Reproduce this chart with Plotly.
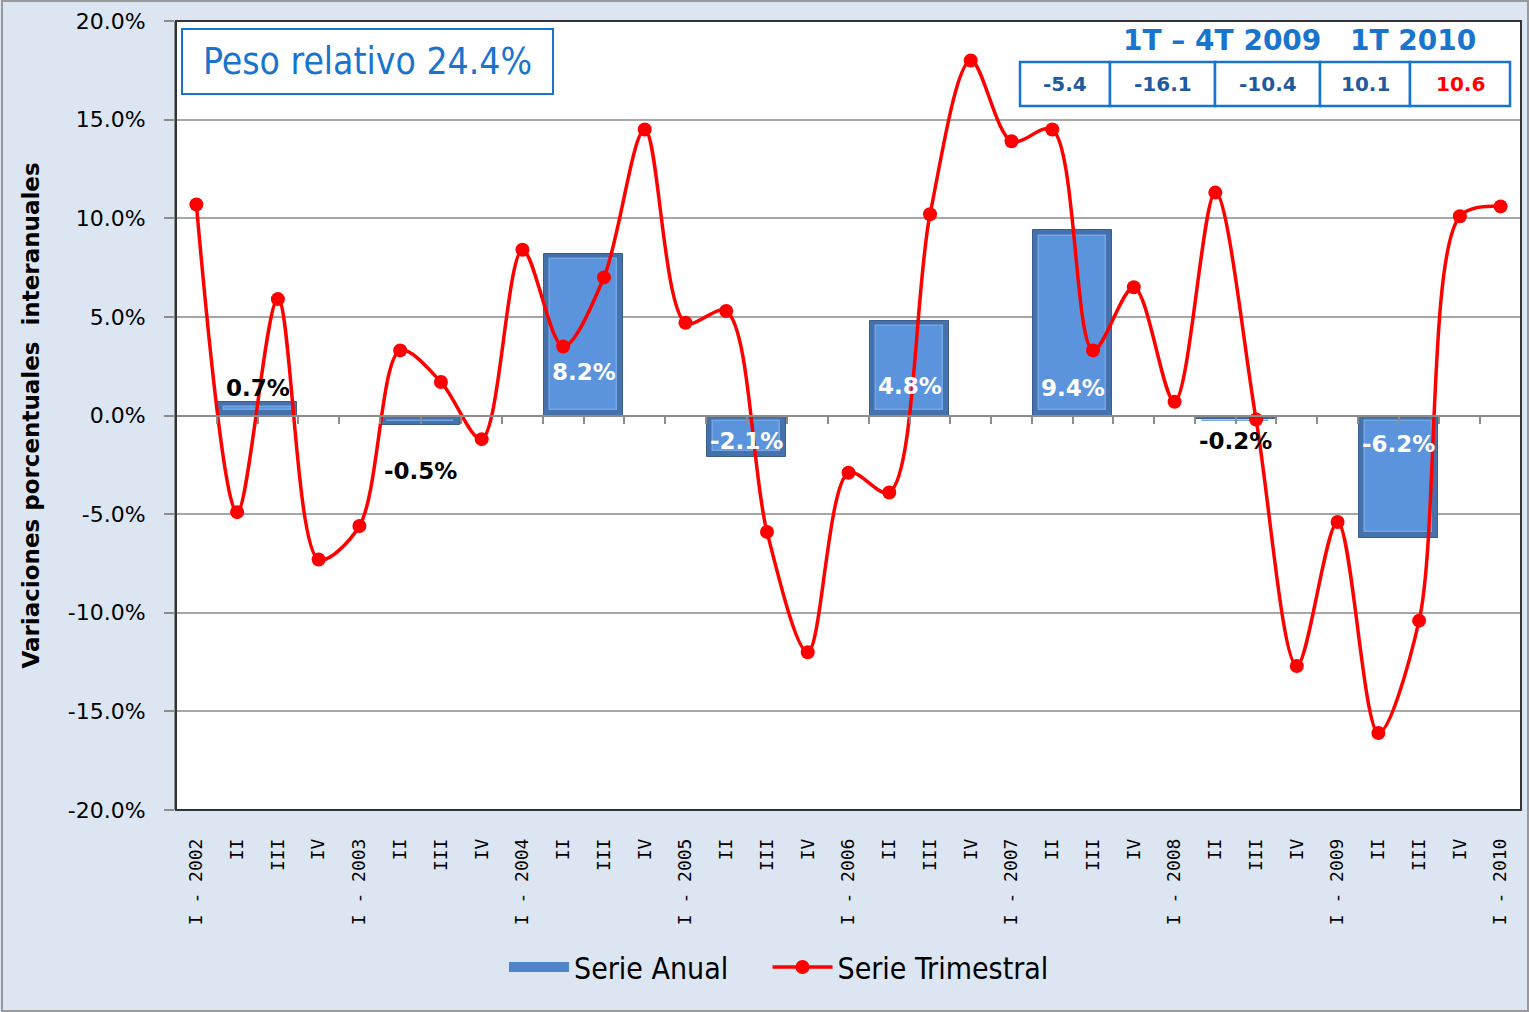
import plotly.graph_objs as go

# Quarterly categories and values
quarters = ["I - 2002", "II", "III", "IV",
            "I - 2003", "II", "III", "IV",
            "I - 2004", "II", "III", "IV",
            "I - 2005", "II", "III", "IV",
            "I - 2006", "II", "III", "IV",
            "I - 2007", "II", "III", "IV",
            "I - 2008", "II", "III", "IV",
            "I - 2009", "II", "III", "IV",
            "I - 2010"]
trimestral = [10.7, -4.9, 5.9, -7.3,
              -5.6, 3.3, 1.7, -1.2,
              8.4, 3.5, 7.0, 14.5,
              4.7, 5.3, -5.9, -12.0,
              -2.9, -3.9, 10.2, 18.0,
              13.9, 14.5, 3.3, 6.5,
              0.7, 11.3, -0.2, -12.7,
              -5.4, -16.1, -10.4, 10.1,
              10.6]

# Annual series
years = [2002, 2003, 2004, 2005, 2006, 2007, 2008, 2009]
anual = [0.7, -0.5, 8.2, -2.1, 4.8, 9.4, -0.2, -6.2]

# y axis ticks
y_ticks = [20, 15, 10, 5, 0, -5, -10, -15, -20]
y_ticktext = ["%.1f%%" % v for v in y_ticks]

# Box texts
peso_text = "Peso relativo 24.4%"
table_heads = ["1T \u2013 4T 2009", "1T 2010"]
table_vals = ["-5.4", "-16.1", "-10.4", "10.1", "10.6"]

# --- geometry helpers (pixel -> paper) ---
L, R, T, B = 176, 1521, 21, 810
def px(x):
    return (x - L) / (R - L)
def py(y):
    return (B - y) / (B - T)

font_main = "DejaVu Sans, Verdana, sans-serif"
font_cond = "DejaVu Sans Condensed, DejaVu Sans, sans-serif"

# bars centred between the 2nd and 3rd quarter of each year
bar_x = [(y - 2002) * 4 + 1.5 for y in years]
bar_w = 1.95
# inner (lighter) face of the bevelled bars
inset_x, inset_y = 0.15, 0.28
inner_base = [inset_y if v > 0 else -inset_y for v in anual]
inner_y = [(max(abs(v) - 2 * inset_y, 0)) * (1 if v > 0 else -1) for v in anual]

fig = go.Figure()
fig.add_trace(go.Bar(
    x=bar_x, y=anual, width=bar_w, name="Serie Anual", showlegend=False,
    marker=dict(color="#4672AC", line=dict(color="#3A5D8E", width=1)),
))
fig.add_trace(go.Bar(
    x=bar_x, y=inner_y, base=inner_base, width=bar_w - 2 * inset_x,
    showlegend=False, hoverinfo="skip",
    marker=dict(color="#5B94DC", line=dict(color="#72A6E6", width=1.5)),
))
# legend entry for the annual series (wide bar-like symbol)
fig.add_trace(go.Scatter(
    x=[None], y=[None], mode="lines", name="Serie Anual" + "\u00a0" * 4,
    line=dict(color="#5185CB", width=14),
))
fig.add_trace(go.Scatter(
    x=list(range(len(quarters))), y=trimestral, name="Serie Trimestral",
    mode="lines+markers", line=dict(color="#FF0000", width=3.5, shape="spline", smoothing=0.9),
    marker=dict(color="#FF0000", size=14),
))
# invisible helper trace so the zero-line axis is drawn
fig.add_trace(go.Scatter(x=[0], y=[0], xaxis="x2", mode="markers",
                         marker=dict(opacity=0), showlegend=False, hoverinfo="skip"))

# bar labels
label_pos = [1.4, -2.8, 2.2, -1.3, 1.5, 1.4, -1.3, -1.45]
for bx, v, ly in zip(bar_x, anual, label_pos):
    inside = abs(v) > 1
    fig.add_annotation(x=bx, y=ly, xref="x", yref="y", text="<b>%.1f%%</b>" % v,
                       showarrow=False, xanchor="center", yanchor="middle",
                       font=dict(family=font_main, size=23,
                                 color="white" if inside else "black"))

shapes = []
# plot frame
shapes.append(dict(type="rect", xref="paper", yref="paper", x0=0, x1=1, y0=0, y1=1,
                   line=dict(color="#333333", width=2), layer="above"))
# outer border
shapes.append(dict(type="rect", xref="paper", yref="paper",
                   x0=px(2), x1=px(1528), y0=py(1011), y1=py(1),
                   line=dict(color="#9A9A9A", width=2), layer="below"))

# Peso relativo box
shapes.append(dict(type="rect", xref="paper", yref="paper",
                   x0=px(182), x1=px(553), y0=py(94), y1=py(29),
                   line=dict(color="#1874CD", width=2), fillcolor="white"))
fig.add_annotation(x=px(367), y=py(62), xref="paper", yref="paper", text=peso_text,
                   showarrow=False, xanchor="center", yanchor="middle",
                   font=dict(family=font_cond, size=37, color="#1874CD"))

# 2009/2010 table
edges = [1020, 1110, 1215, 1320, 1410, 1510]
for i, val in enumerate(table_vals):
    shapes.append(dict(type="rect", xref="paper", yref="paper",
                       x0=px(edges[i]), x1=px(edges[i + 1]), y0=py(106), y1=py(62),
                       line=dict(color="#1874CD", width=2.5), fillcolor="white"))
    fig.add_annotation(x=px((edges[i] + edges[i + 1]) / 2), y=py(84),
                       xref="paper", yref="paper", text="<b>%s</b>" % val, showarrow=False,
                       xanchor="center", yanchor="middle",
                       font=dict(family=font_main, size=20,
                                 color="#FF0000" if i == len(table_vals) - 1 else "#1F5A9E"))
for head, hx in zip(table_heads, [1222, 1413]):
    fig.add_annotation(x=px(hx), y=py(40), xref="paper", yref="paper",
                       text="<b>%s</b>" % head, showarrow=False,
                       xanchor="center", yanchor="middle",
                       font=dict(family=font_main, size=28, color="#1874CD"))

fig.update_layout(
    width=1529, height=1012,
    margin=dict(l=L, r=1529 - R, t=T, b=1012 - B),
    paper_bgcolor="#DCE6F2", plot_bgcolor="white",
    font=dict(family=font_main, color="black"),
    barmode="overlay", bargap=0,
    shapes=shapes,
    showlegend=True,
    legend=dict(orientation="h", x=px(779), y=py(967), xanchor="center", yanchor="middle",
                font=dict(family=font_cond, size=30), bgcolor="rgba(0,0,0,0)",
                itemwidth=60, traceorder="normal"),
    xaxis=dict(range=[-0.5, 32.5], tickmode="array",
               tickvals=list(range(len(quarters))), ticktext=quarters,
               tickangle=-90, ticks="", showgrid=False, zeroline=False,
               ticklabelstandoff=24,
               tickfont=dict(family="DejaVu Sans Mono, monospace", size=18), showline=False),
    xaxis2=dict(range=[-0.5, 32.5], overlaying="x", anchor="free", position=0.5,
                side="bottom", tickmode="array",
                tickvals=[i - 0.5 for i in range(len(quarters) + 1)],
                ticks="outside", ticklen=7, tickcolor="#8C8C8C", tickwidth=2,
                showticklabels=False, showgrid=False, zeroline=False,
                showline=True, linecolor="#8C8C8C", linewidth=2),
    yaxis=dict(range=[-20, 20], tickmode="array", tickvals=y_ticks, ticktext=y_ticktext,
               showgrid=True, gridcolor="#A6A6A6", gridwidth=1.5, zeroline=False,
               ticks="outside", ticklen=10, tickcolor="#8C8C8C", tickwidth=2,
               ticklabelstandoff=14,
               showline=True, linecolor="#8C8C8C", linewidth=2,
               tickfont=dict(family=font_main, size=22),
               title=dict(text="<b>Variaciones porcentuales  interanuales</b>",
                          font=dict(family=font_main, size=23), standoff=22)),
)

fig.write_html("out.html", config={"displayModeBar": False},
               post_script="document.body.style.margin='0';")
